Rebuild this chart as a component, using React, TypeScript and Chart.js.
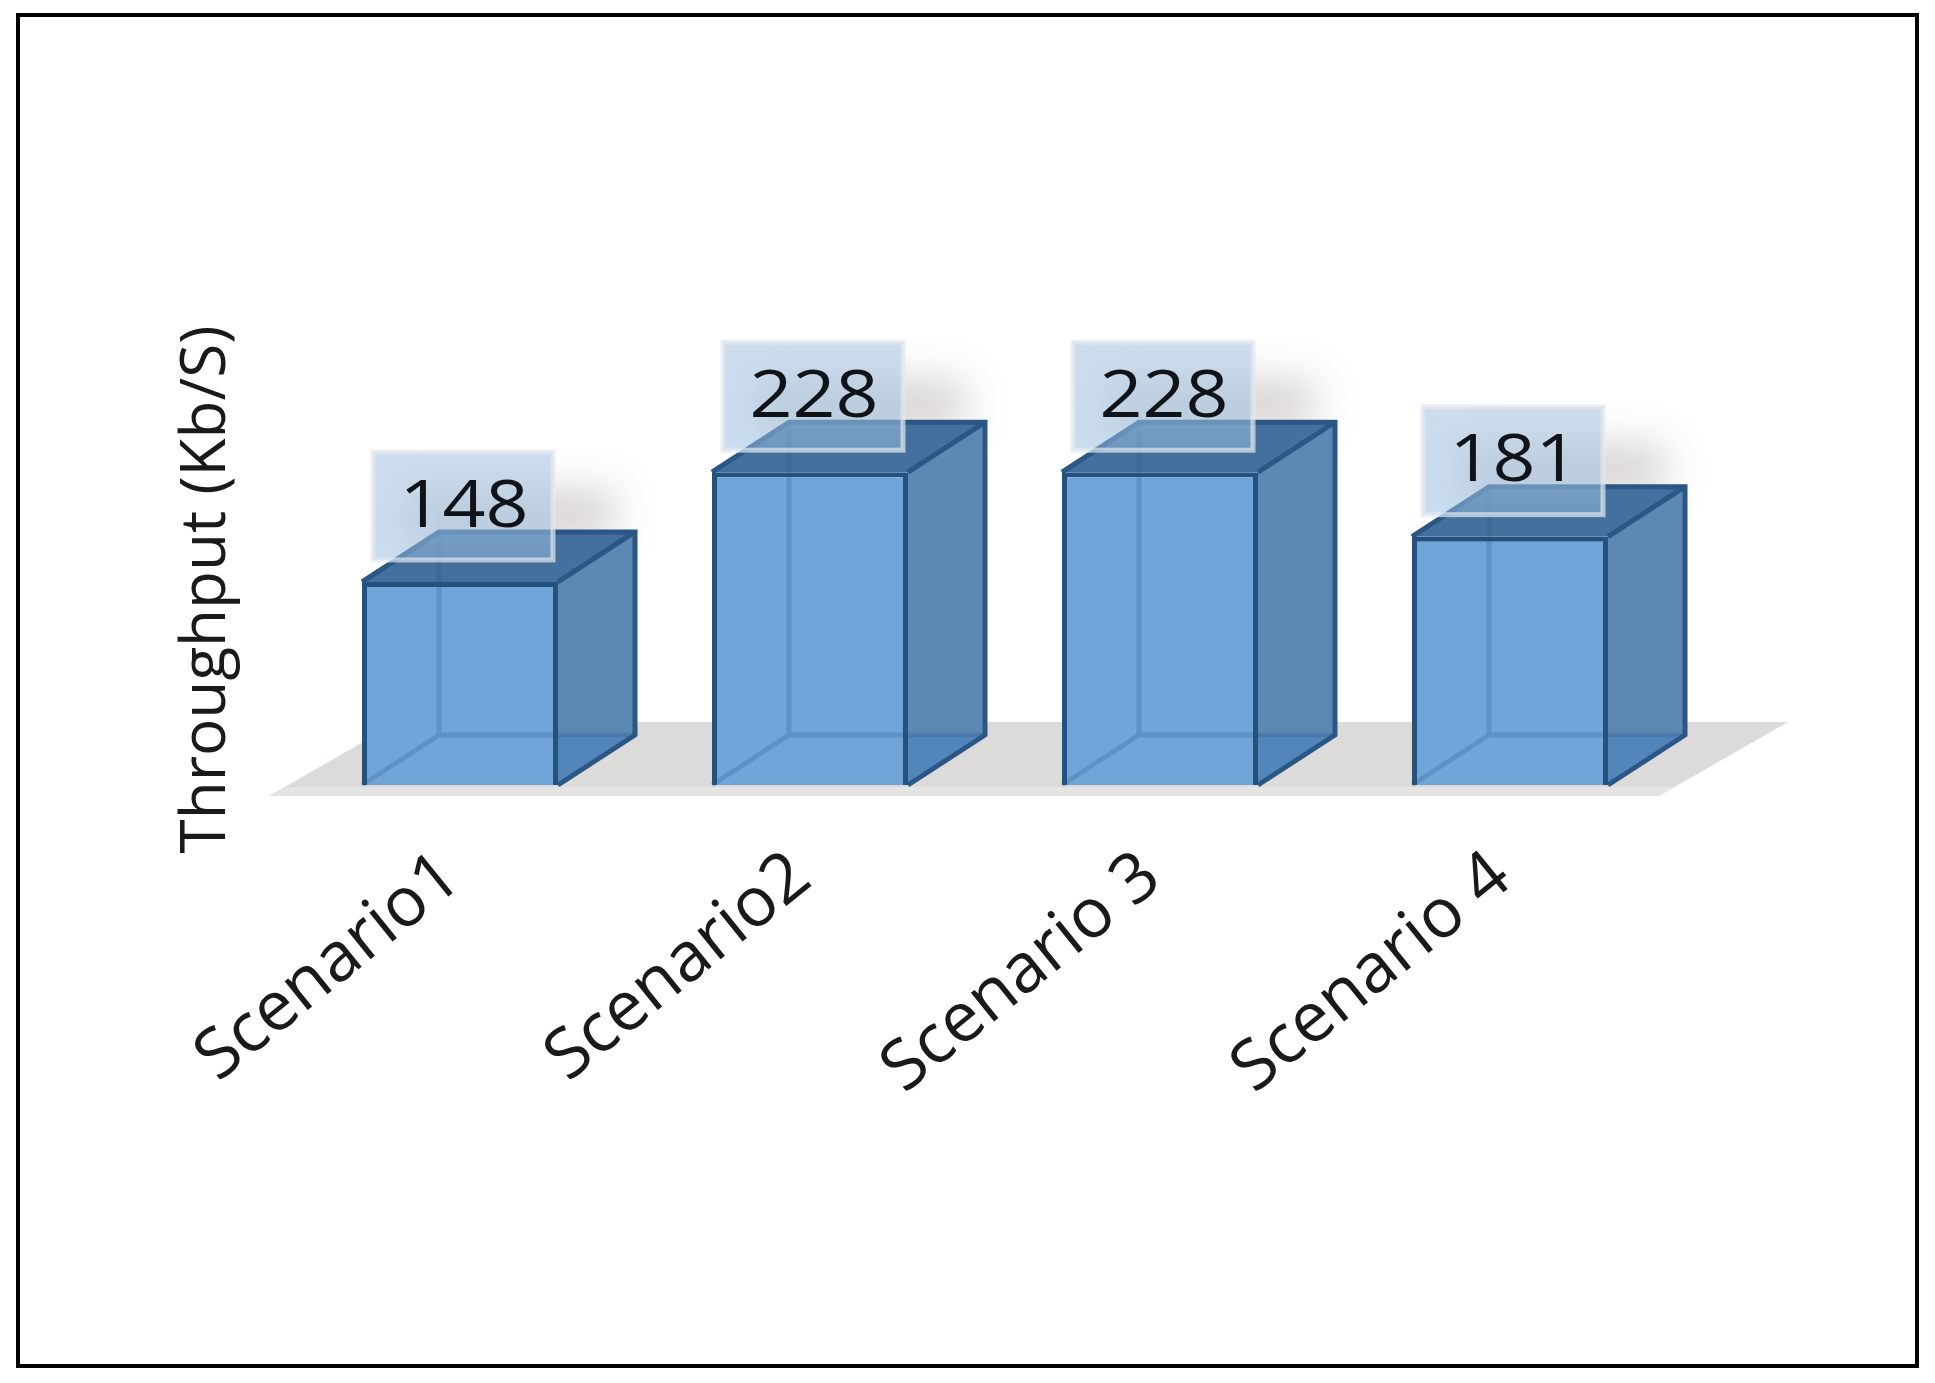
import React, { useEffect, useRef } from "react";
import { Chart, registerables } from "chart.js";

Chart.register(...registerables);

const categories = ["Scenario1", "Scenario2", "Scenario 3", "Scenario 4"];
const throughput = [148, 228, 228, 181];
const axisTitle = "Throughput (Kb/S)";

const FONT = '"Open Sans", sans-serif';
const DEPTH_X = 77;
const DEPTH_Y = 50;
const EDGE = "#24527f";

const scene = {
  id: "scene",
  beforeDatasetsDraw(chart: any) {
    const { ctx } = chart;
    const xs = chart.scales.x;
    const ys = chart.scales.y;
    const base = ys.getPixelForValue(0);
    const x0 = xs.getPixelForValue(0);
    const x3 = xs.getPixelForValue(3);
    ctx.save();
    // frame
    ctx.strokeStyle = "#000";
    ctx.lineWidth = 4;
    ctx.strokeRect(18, 15, chart.width - 36, chart.height - 32);
    // floor
    ctx.save();
    ctx.beginPath();
    ctx.moveTo(x0 - 191, base + 11);
    ctx.lineTo(x0 - 62, base - 63);
    ctx.lineTo(x3 + 278, base - 63);
    ctx.lineTo(x3 + 149, base + 11);
    ctx.closePath();
    ctx.fillStyle = "#dddada";
    ctx.fill();
    ctx.clip();
    ctx.fillStyle = "#e4e4e4";
    ctx.fillRect(x0 - 200, base + 2, x3 - x0 + 400, 10);
    ctx.restore();

    const meta = chart.getDatasetMeta(0);
    meta.data.forEach((bar: any) => {
      const half = bar.width / 2;
      const l = bar.x - half;
      const r = bar.x + half;
      const t = bar.y;
      const b = base;
      // soft shadow behind the value label
      ctx.save();
      ctx.shadowColor = "rgba(120,110,100,0.3)";
      ctx.shadowBlur = 42;
      ctx.shadowOffsetX = 4000;
      ctx.fillStyle = "#000";
      ctx.fillRect(l + 50 - 4000, t - 92, half * 2 + 6, 50);
      ctx.restore();
      // top face
      ctx.fillStyle = "#44709e";
      ctx.beginPath();
      ctx.moveTo(l, t);
      ctx.lineTo(l + DEPTH_X, t - DEPTH_Y);
      ctx.lineTo(r + DEPTH_X, t - DEPTH_Y);
      ctx.lineTo(r, t);
      ctx.closePath();
      ctx.fill();
      // right face
      ctx.fillStyle = "#5c88b4";
      ctx.beginPath();
      ctx.moveTo(r, t);
      ctx.lineTo(r + DEPTH_X, t - DEPTH_Y);
      ctx.lineTo(r + DEPTH_X, b - DEPTH_Y);
      ctx.lineTo(r, b);
      ctx.closePath();
      ctx.fill();
      // floor seen through the right face
      ctx.fillStyle = "#5286ba";
      ctx.beginPath();
      ctx.moveTo(r, b - DEPTH_Y);
      ctx.lineTo(r + DEPTH_X, b - DEPTH_Y);
      ctx.lineTo(r, b);
      ctx.closePath();
      ctx.fill();
      // outer edges
      ctx.strokeStyle = "#2b5786";
      ctx.lineWidth = 5;
      ctx.beginPath();
      ctx.moveTo(l, t);
      ctx.lineTo(l + DEPTH_X, t - DEPTH_Y);
      ctx.lineTo(r + DEPTH_X, t - DEPTH_Y);
      ctx.lineTo(r + DEPTH_X, b - DEPTH_Y);
      ctx.lineTo(r, b);
      ctx.moveTo(r + DEPTH_X, t - DEPTH_Y);
      ctx.lineTo(r, t);
      ctx.stroke();
    });
    ctx.restore();
  },
  afterDatasetsDraw(chart: any) {
    const { ctx } = chart;
    const ys = chart.scales.y;
    const base = ys.getPixelForValue(0);
    const meta = chart.getDatasetMeta(0);
    ctx.save();
    meta.data.forEach((bar: any) => {
      const half = bar.width / 2;
      const l = bar.x - half;
      const r = bar.x + half;
      const t = bar.y;
      const b = base;
      // inner back edges seen through the box
      ctx.strokeStyle = "rgba(36,82,127,0.22)";
      ctx.lineWidth = 5;
      ctx.beginPath();
      ctx.moveTo(l, b);
      ctx.lineTo(l + DEPTH_X, b - DEPTH_Y);
      ctx.lineTo(l + DEPTH_X, t - DEPTH_Y);
      ctx.moveTo(l + DEPTH_X, b - DEPTH_Y);
      ctx.lineTo(r + DEPTH_X, b - DEPTH_Y);
      ctx.stroke();
    });
    meta.data.forEach((bar: any, i: number) => {
      const boxW = 180;
      const boxH = 108;
      const bx = bar.x - 87;
      const by = bar.y - 22 - boxH;
      const grad = ctx.createLinearGradient(0, by, 0, by + boxH);
      grad.addColorStop(0, "rgba(186,207,230,0.72)");
      grad.addColorStop(1, "rgba(150,188,224,0.5)");
      ctx.fillStyle = grad;
      ctx.fillRect(bx, by, boxW, boxH);
      ctx.strokeStyle = "rgba(226,232,238,0.7)";
      ctx.lineWidth = 5;
      ctx.strokeRect(bx, by, boxW, boxH);
      ctx.fillStyle = "#101418";
      ctx.font = `66px ${FONT}`;
      ctx.textAlign = "center";
      ctx.textBaseline = "middle";
      ctx.save();
      ctx.translate(bar.x + 4, bar.y - 74);
      ctx.scale(1.14, 1);
      ctx.fillText(String(throughput[i]), 0, 0);
      ctx.restore();
    });
    ctx.restore();
  },
};

export default function App() {
  const ref = useRef<HTMLCanvasElement | null>(null);
  useEffect(() => {
    if (!ref.current) return;
    const chart = new Chart(ref.current, {
      type: "bar",
      data: {
        labels: categories,
        datasets: [
          {
            data: throughput,
            backgroundColor: "#6fa5d8",
            borderColor: EDGE,
            borderWidth: 5,
            barPercentage: 0.56,
            categoryPercentage: 1,
          },
        ],
      },
      options: {
        responsive: false,
        animation: false,
        devicePixelRatio: 1,
        layout: { padding: { top: 394, right: 250, left: 0, bottom: 0 } },
        plugins: { legend: { display: false }, tooltip: { enabled: false } },
        scales: {
          x: {
            grid: { display: false },
            border: { display: false },
            afterFit(scale: any) {
              scale.height = 598;
            },
            ticks: {
              autoSkip: false,
              minRotation: 39,
              maxRotation: 39,
              padding: 43,
              labelOffset: -8,
              color: "#1a1a1a",
              font: { family: FONT, size: 69 },
            },
          },
          y: {
            min: 0,
            max: 285,
            grid: { display: false },
            border: { display: false },
            afterFit(scale: any) {
              scale.width = 285;
            },
            ticks: { display: false },
            title: {
              display: true,
              text: axisTitle,
              color: "#1a1a1a",
              padding: { top: 170, bottom: 0 },
              font: { family: FONT, size: 62 },
            },
          },
        },
      },
      plugins: [scene],
    } as any);
    return () => chart.destroy();
  }, []);
  return (
    <div style={{ position: "fixed", left: 0, top: 0, width: 1935, height: 1383, background: "#fff" }}>
      <canvas
        ref={ref}
        width={1935}
        height={1383}
        style={{ display: "block", width: 1935, height: 1383, filter: "blur(0.7px)" }}
      />
    </div>
  );
}
